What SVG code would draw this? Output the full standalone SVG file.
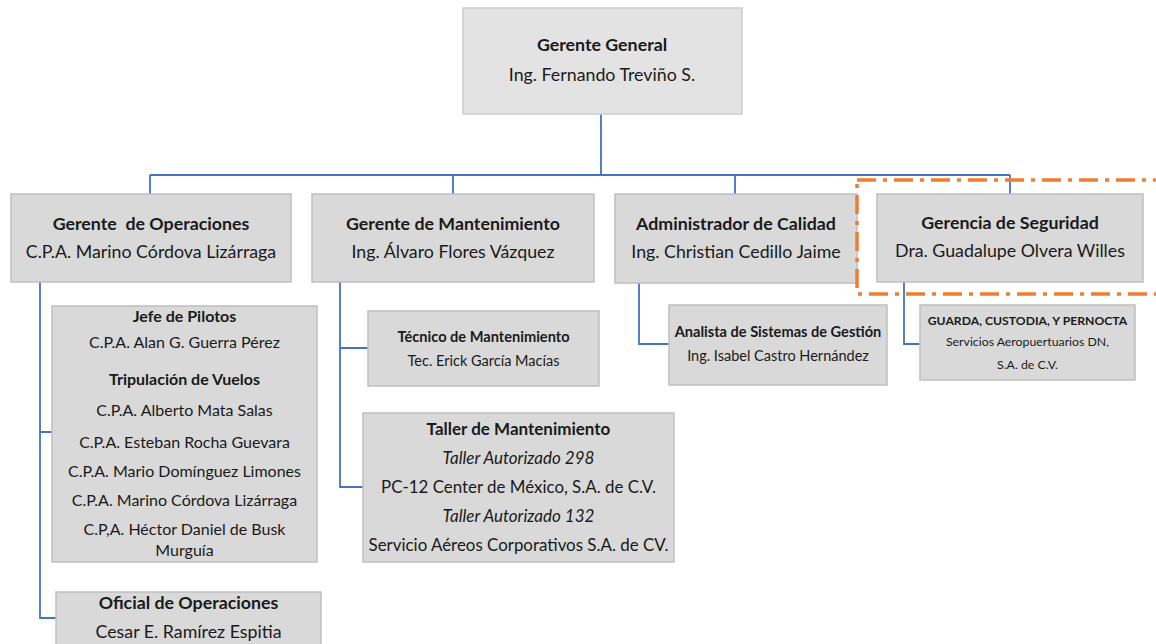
<svg xmlns="http://www.w3.org/2000/svg" width="1156" height="644" viewBox="0 0 1156 644">
<style>
.box{fill:#d9d9d9;stroke:#bfbfbf;stroke-width:1.5}
.top{fill:#e3e3e3;stroke:#cccccc;stroke-width:1.5}
text{font-family:Lato,"Liberation Sans",sans-serif;fill:#1a1a1a;text-anchor:middle}
.t{font-weight:bold;font-size:17.8px}
.s{font-size:17.8px}
.tm{font-weight:bold;font-size:16px}
.sm{font-size:16px}
.ts{font-weight:bold;font-size:14.6px}
.ss{font-size:14.5px}
.tx{font-weight:bold;font-size:12.2px}
.sx{font-size:12.3px}
.it{font-style:italic;font-size:17px}
.m{font-size:16.9px}
.mb{font-weight:bold;font-size:17px}
.c{fill:none;stroke:#4472c4;stroke-width:1.8}
</style>
<rect width="1156" height="644" fill="#ffffff"/>
<g id="connectors">
<path class="c" d="M601 114V175M150 175H1010M150 175V194M453 175V194M735 175V194M1010 175V194"/>
<path class="c" d="M40 282V618H56M40 432H52"/>
<path class="c" d="M340 282V487H363M340 348H368"/>
<path class="c" d="M639 283V344H669"/>
<path class="c" d="M904 282V344H920"/>
</g>
<g id="gerente-general">
<rect class="top" x="463" y="8" width="279" height="106"/>
<text class="t" x="602" y="51">Gerente General</text>
<text class="s" x="602" y="81">Ing. Fernando Treviño S.</text>
</g>
<g id="gerente-operaciones">
<rect class="box" x="11" y="194" width="280" height="88"/>
<text class="t" x="151" y="230" xml:space="preserve">Gerente  de Operaciones</text>
<text class="s" x="151" y="258">C.P.A. Marino Córdova Lizárraga</text>
</g>
<g id="gerente-mantenimiento">
<rect class="box" x="312" y="194" width="282" height="88"/>
<text class="t" x="453" y="230">Gerente de Mantenimiento</text>
<text class="s" x="453" y="258">Ing. Álvaro Flores Vázquez</text>
</g>
<g id="administrador-calidad">
<rect class="box" x="615" y="194" width="242" height="89"/>
<text class="t" x="736" y="230">Administrador de Calidad</text>
<text class="s" x="736" y="258">Ing. Christian Cedillo Jaime</text>
</g>
<g id="gerencia-seguridad">
<rect class="box" x="877" y="194" width="266" height="88"/>
<text class="t" x="1010" y="229">Gerencia de Seguridad</text>
<text class="s" x="1010" y="257">Dra. Guadalupe Olvera Willes</text>
</g>
<g id="highlight">
<rect x="857" y="180" width="310" height="114" fill="none" stroke="#ed7d31" stroke-width="3.5" stroke-dasharray="19 7 4 7"/>
</g>
<g id="pilotos">
<rect class="box" x="52" y="306" width="265" height="256"/>
<text class="tm" x="184.5" y="322">Jefe de Pilotos</text>
<text class="sm" x="184.5" y="348">C.P.A. Alan G. Guerra Pérez</text>
<text class="tm" x="184.5" y="385">Tripulación de Vuelos</text>
<text class="sm" x="184.5" y="416">C.P.A. Alberto Mata Salas</text>
<text class="sm" x="184.5" y="448">C.P.A. Esteban Rocha Guevara</text>
<text class="sm" x="184.5" y="477">C.P.A. Mario Domínguez Limones</text>
<text class="sm" x="184.5" y="506">C.P.A. Marino Córdova Lizárraga</text>
<text class="sm" x="184.5" y="535">C.P,A. Héctor Daniel de Busk</text>
<text class="sm" x="184.5" y="556">Murguía</text>
</g>
<g id="oficial-operaciones">
<rect class="box" x="56" y="592" width="265" height="60"/>
<text class="t" x="188.5" y="609">Oficial de Operaciones</text>
<text class="s" x="188.5" y="638">Cesar E. Ramírez Espitia</text>
</g>
<g id="tecnico-mantenimiento">
<rect class="box" x="368" y="311" width="231" height="75"/>
<text class="ts" x="483.5" y="342">Técnico de Mantenimiento</text>
<text class="ss" x="483.5" y="366">Tec. Erick García Macías</text>
</g>
<g id="taller-mantenimiento">
<rect class="box" x="363" y="413" width="311" height="149"/>
<text class="mb" x="518.5" y="435">Taller de Mantenimiento</text>
<text class="it" x="518.5" y="464">Taller Autorizado 298</text>
<text class="m" x="518.5" y="493">PC-12 Center de México, S.A. de C.V.</text>
<text class="it" x="518.5" y="522">Taller Autorizado 132</text>
<text class="m" x="518.5" y="551">Servicio Aéreos Corporativos S.A. de CV.</text>
</g>
<g id="analista">
<rect class="box" x="669" y="305" width="218" height="80"/>
<text class="ts" x="778" y="337">Analista de Sistemas de Gestión</text>
<text class="ss" x="778" y="361">Ing. Isabel Castro Hernández</text>
</g>
<g id="guarda">
<rect class="box" x="920" y="305" width="215" height="75"/>
<text class="tx" x="1027.5" y="325">GUARDA, CUSTODIA, Y PERNOCTA</text>
<text class="sx" x="1027.5" y="346">Servicios Aeropuertuarios DN,</text>
<text class="sx" x="1027.5" y="369">S.A. de C.V.</text>
</g>
</svg>
